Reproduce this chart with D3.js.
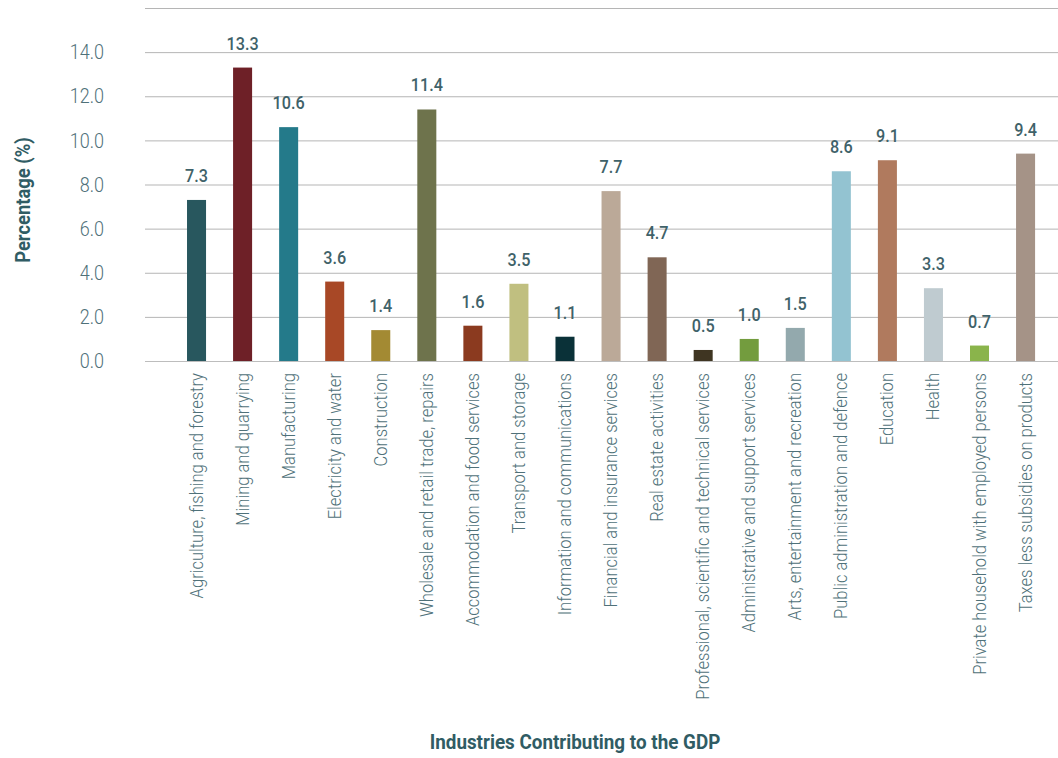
<!DOCTYPE html>
<html><head><meta charset="utf-8">
<script src="https://cdn.jsdelivr.net/npm/d3@7"></script>
<style>
html,body{margin:0;padding:0;background:#fff;}
svg{display:block;}
text{font-family:Roboto,"Noto Sans",sans-serif;}
</style></head>
<body>
<svg id="chart" width="1058" height="758"></svg>
<script>
const categories = [
  "Agriculture, fishing and forestry","Mining and quarrying","Manufacturing","Electricity and water",
  "Construction","Wholesale and retail trade, repairs","Accommodation and food services",
  "Transport and storage","Information and communications","Financial and insurance services",
  "Real estate activities","Professional, scientific and technical services",
  "Administrative and support services","Arts, entertainment and recreation",
  "Public administration and defence","Education","Health",
  "Private household with employed persons","Taxes less subsidies on products"
];
const values = [7.3,13.3,10.6,3.6,1.4,11.4,1.6,3.5,1.1,7.7,4.7,0.5,1.0,1.5,8.6,9.1,3.3,0.7,9.4];
const colors = ["#28575e","#6e2027","#247a8a","#a84826","#a38a33","#6e734c","#8b3a1f","#c0bf80",
  "#0a3138","#bba998","#806655","#3f3522","#739c3e","#93a9ad","#93c3d1","#b07a5e","#bfcbd0","#8ab44b","#a59387"];
const yTicks = [0,2,4,6,8,10,12,14,16];
const yTickLabels = ["0.0","2.0","4.0","6.0","8.0","10.0","12.0","14.0",""];
const yTitle = "Percentage (%)";
const xTitle = "Industries Contributing to the GDP";

const svg = d3.select("#chart");
const gridLeft = 145, gridRight = 1058;
const x = d3.scaleBand().domain(categories).range([173.5,1048.6]).paddingInner(0.587).paddingOuter(0.2935);
const y = d3.scaleLinear().domain([0,16]).range([361,8]);

// gridlines
svg.append("g").selectAll("line").data(yTicks).join("line")
  .attr("x1",gridLeft).attr("x2",gridRight)
  .attr("y1",d=>y(d)+0.5).attr("y2",d=>y(d)+0.5)
  .attr("stroke",d=>d===0?"#bdbdbd":"#b5b5b5").attr("stroke-width",1);

// y tick labels
svg.append("g").selectAll("text").data(yTicks).join("text")
  .attr("transform",d=>`translate(104,${y(d)}) scale(0.9,1)`)
  .attr("dy","0.36em")
  .attr("text-anchor","end").attr("font-size",20).attr("font-weight",300)
  .attr("fill","#4f7179")
  .text((d,i)=>yTickLabels[i]);

// bars
svg.append("g").selectAll("rect").data(values).join("rect")
  .attr("x",(d,i)=>x(categories[i])).attr("width",x.bandwidth())
  .attr("y",d=>y(d)).attr("height",d=>y(0)-y(d))
  .attr("fill",(d,i)=>colors[i]);

// value labels
svg.append("g").selectAll("text").data(values).join("text")
  .attr("transform",(d,i)=>`translate(${x(categories[i])+x.bandwidth()/2},${y(d)-18}) scale(0.9,1)`)
  .attr("text-anchor","middle").attr("font-size",18).attr("font-weight",500)
  .attr("fill","#3f6269")
  .text(d=>d.toFixed(1));

// x labels
svg.append("g").selectAll("text").data(categories).join("text")
  .attr("transform",d=>`translate(${x(d)+x.bandwidth()/2+6},373) rotate(-90) scale(0.92,1)`)
  .attr("text-anchor","end").attr("font-size",18).attr("font-weight",300)
  .attr("fill","#4f7179")
  .text(d=>d);

// y title
svg.append("text")
  .attr("transform","translate(30,200) rotate(-90) scale(0.92,1)")
  .attr("text-anchor","middle").attr("font-size",20).attr("font-weight",700)
  .attr("fill","#305c64").text(yTitle);

// x title
svg.append("text")
  .attr("transform","translate(575,749) scale(0.92,1)")
  .attr("text-anchor","middle").attr("font-size",20.5).attr("font-weight",700)
  .attr("fill","#305c64").text(xTitle);
</script>
</body></html>
